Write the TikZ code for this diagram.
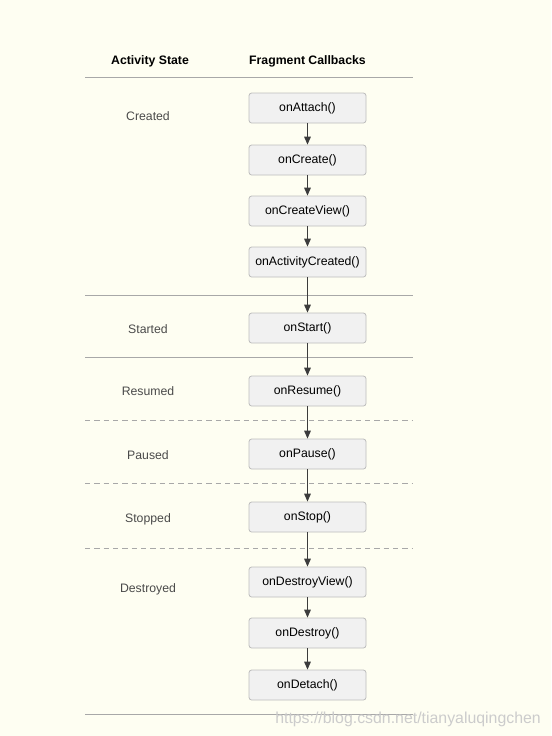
\documentclass[tikz,border=0pt]{standalone}
\usepackage{fontspec}
\setmainfont{Liberation Sans}
\usetikzlibrary{arrows.meta}
\definecolor{paper}{HTML}{FEFEF2}
\definecolor{boxfill}{HTML}{F1F1F1}
\definecolor{boxline}{HTML}{BDBDBD}
\definecolor{rule}{HTML}{A8A8A8}
\definecolor{statetext}{HTML}{4A4A4A}
\definecolor{arrowcol}{HTML}{3C3C3C}
\tikzset{
  cb/.style={draw=boxline, fill=boxfill, rounded corners=2pt, line width=0.6pt,
    minimum width=87.75pt, minimum height=22.5pt, inner sep=0pt,
    font=\fontsize{9.2}{11}\selectfont},
  state/.style={text=statetext, font=\fontsize{9.2}{11}\selectfont},
  head/.style={font=\bfseries\fontsize{9.2}{11}\selectfont},
  sep/.style={draw=rule, line width=0.6pt},
  sepdash/.style={sep, dashed, dash pattern=on 4pt off 3pt},
  flow/.style={draw=arrowcol, line width=0.8pt, -{Triangle[width=5pt,length=6pt]}}
}
\begin{document}
\begin{tikzpicture}[x=0.75pt, y=-0.75pt]
  % canvas
  \fill[paper] (0,0) rectangle (551,736);
  \useasboundingbox (0,0) rectangle (551,736);

  % column headings
  \node[head] (hstate) at (150,61) {Activity State};
  \node[head] (hcb) at (307.5,61) {Fragment Callbacks};

  % separators
  \coordinate (l0a) at (85,77);  \coordinate (l0b) at (413,77);
  \coordinate (l1a) at (85,295); \coordinate (l1b) at (413,295);
  \coordinate (l2a) at (85,357); \coordinate (l2b) at (413,357);
  \coordinate (l3a) at (85,420); \coordinate (l3b) at (413,420);
  \coordinate (l4a) at (85,483); \coordinate (l4b) at (413,483);
  \coordinate (l5a) at (85,548); \coordinate (l5b) at (413,548);
  \coordinate (l6a) at (85,714); \coordinate (l6b) at (413,714);
  \draw[sep] (l0a) -- (l0b);
  \draw[sep] (l1a) -- (l1b);
  \draw[sep] (l2a) -- (l2b);
  \draw[sepdash] (l3a) -- (l3b);
  \draw[sepdash] (l4a) -- (l4b);
  \draw[sepdash] (l5a) -- (l5b);
  \draw[sep] (l6a) -- (l6b);

  % activity states
  \node[state] (sCreated)   at (148,116) {Created};
  \node[state] (sStarted)   at (148,329) {Started};
  \node[state] (sResumed)   at (148,391) {Resumed};
  \node[state] (sPaused)    at (148,455) {Paused};
  \node[state] (sStopped)   at (148,519) {Stopped};
  \node[state] (sDestroyed) at (148,589) {Destroyed};

  % fragment callbacks
  \node[cb] (attach)   at (307.5,108) {onAttach()};
  \node[cb] (create)   at (307.5,160) {onCreate()};
  \node[cb] (cview)    at (307.5,211) {onCreateView()};
  \node[cb] (actcr)    at (307.5,262) {onActivityCreated()};
  \node[cb] (start)    at (307.5,328) {onStart()};
  \node[cb] (resume)   at (307.5,391) {onResume()};
  \node[cb] (pause)    at (307.5,454) {onPause()};
  \node[cb] (stop)     at (307.5,517) {onStop()};
  \node[cb] (dview)    at (307.5,582) {onDestroyView()};
  \node[cb] (destroy)  at (307.5,633) {onDestroy()};
  \node[cb] (detach)   at (307.5,685) {onDetach()};

  % call order
  \draw[flow] (attach) -- (create);
  \draw[flow] (create) -- (cview);
  \draw[flow] (cview) -- (actcr);
  \draw[flow] (actcr) -- (start);
  \draw[flow] (start) -- (resume);
  \draw[flow] (resume) -- (pause);
  \draw[flow] (pause) -- (stop);
  \draw[flow] (stop) -- (dview);
  \draw[flow] (dview) -- (destroy);
  \draw[flow] (destroy) -- (detach);

  % source mark
  \node[text=black!20, anchor=west, font=\fontsize{11.9}{13}\selectfont, inner sep=0pt]
    (mark) at (275,719) {https://blog.csdn.net/tianyaluqingchen};
\end{tikzpicture}
\end{document}
